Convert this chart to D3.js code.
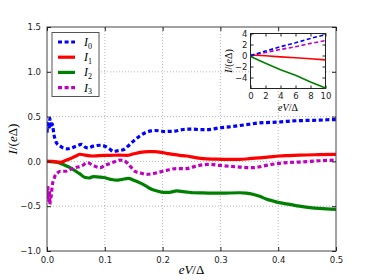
<!DOCTYPE html>
<html>
<head>
<meta charset="utf-8">
<script src="https://cdn.jsdelivr.net/npm/d3@7"></script>
<style>
  html, body { margin: 0; padding: 0; background: #fff; }
  text { font-family: "DejaVu Sans", sans-serif; }
  .math { font-family: "Liberation Serif", "DejaVu Serif", serif; font-style: italic; }
</style>
</head>
<body>
<div id="chart"></div>
<script>
// main panel: current components vs eV/Delta
const v0 = [0.000, 0.002, 0.004, 0.005, 0.007, 0.009, 0.012, 0.017, 0.023, 0.028, 0.035, 0.043, 0.050, 0.060, 0.066, 0.071, 0.080, 0.092, 0.100, 0.108, 0.115, 0.123, 0.132, 0.140, 0.152, 0.160, 0.170, 0.180, 0.187, 0.196, 0.204, 0.212, 0.221, 0.230, 0.241, 0.252, 0.264, 0.280, 0.298, 0.315, 0.333, 0.350, 0.368, 0.385, 0.402, 0.420, 0.437, 0.455, 0.471, 0.485, 0.500];
const i0 = [0.32, 0.44, 0.36, 0.48, 0.38, 0.42, 0.30, 0.20, 0.17, 0.15, 0.14, 0.15, 0.17, 0.19, 0.16, 0.15, 0.17, 0.18, 0.17, 0.14, 0.11, 0.12, 0.13, 0.17, 0.24, 0.28, 0.32, 0.34, 0.345, 0.34, 0.333, 0.335, 0.337, 0.35, 0.36, 0.36, 0.355, 0.355, 0.374, 0.385, 0.40, 0.415, 0.43, 0.435, 0.44, 0.45, 0.455, 0.458, 0.46, 0.465, 0.467];

const v1 = [0.000, 0.010, 0.023, 0.032, 0.040, 0.050, 0.057, 0.066, 0.078, 0.090, 0.109, 0.125, 0.138, 0.150, 0.161, 0.175, 0.187, 0.198, 0.207, 0.218, 0.230, 0.241, 0.255, 0.270, 0.290, 0.310, 0.333, 0.350, 0.368, 0.385, 0.402, 0.420, 0.437, 0.470, 0.500];
const i1 = [0.0, 0.0, -0.01, 0.01, 0.03, 0.06, 0.08, 0.07, 0.06, 0.065, 0.067, 0.07, 0.067, 0.085, 0.10, 0.11, 0.11, 0.10, 0.09, 0.078, 0.067, 0.06, 0.045, 0.03, 0.025, 0.022, 0.022, 0.03, 0.04, 0.05, 0.06, 0.065, 0.07, 0.075, 0.078];

const v2 = [0.000, 0.010, 0.020, 0.030, 0.040, 0.050, 0.057, 0.066, 0.073, 0.080, 0.090, 0.098, 0.110, 0.120, 0.130, 0.141, 0.150, 0.161, 0.170, 0.181, 0.191, 0.201, 0.212, 0.224, 0.240, 0.253, 0.270, 0.300, 0.333, 0.345, 0.356, 0.368, 0.379, 0.390, 0.402, 0.420, 0.437, 0.455, 0.471, 0.500];
const i2 = [0.0, -0.005, -0.015, -0.04, -0.07, -0.11, -0.14, -0.18, -0.185, -0.17, -0.175, -0.18, -0.20, -0.21, -0.20, -0.19, -0.21, -0.24, -0.27, -0.31, -0.33, -0.345, -0.345, -0.33, -0.34, -0.35, -0.352, -0.355, -0.35, -0.355, -0.367, -0.39, -0.42, -0.44, -0.46, -0.48, -0.50, -0.515, -0.525, -0.535];

const v3 = [0.000, 0.001, 0.002, 0.003, 0.004, 0.005, 0.006, 0.007, 0.009, 0.012, 0.014, 0.018, 0.023, 0.032, 0.040, 0.049, 0.060, 0.070, 0.080, 0.092, 0.100, 0.109, 0.118, 0.126, 0.133, 0.141, 0.152, 0.162, 0.172, 0.184, 0.194, 0.207, 0.224, 0.241, 0.259, 0.282, 0.299, 0.316, 0.333, 0.356, 0.368, 0.379, 0.402, 0.420, 0.437, 0.471, 0.500];
const i3 = [-0.30, -0.42, -0.29, -0.44, -0.33, -0.48, -0.36, -0.40, -0.27, -0.20, -0.16, -0.13, -0.11, -0.11, -0.09, -0.07, -0.05, -0.015, -0.045, -0.07, -0.045, -0.022, 0.0, 0.015, 0.01, -0.033, -0.11, -0.13, -0.145, -0.135, -0.12, -0.10, -0.08, -0.08, -0.05, -0.033, -0.045, -0.055, -0.063, -0.07, -0.06, -0.045, -0.022, -0.012, -0.007, 0.007, 0.015];

// inset panel: wide bias range
const insetV = [0, 2, 4, 6, 8, 10];
const insetI0 = [0.0, 0.8, 1.6, 2.3, 3.1, 3.8];
const insetI1 = [0.1, -0.05, -0.25, -0.4, -0.6, -0.8];
const insetI2 = [-0.2, -1.4, -2.6, -3.6, -4.8, -5.9];
const insetI3 = [0.0, 0.55, 1.1, 1.6, 2.2, 2.7];

const xTicks = [0.0, 0.1, 0.2, 0.3, 0.4, 0.5];
const yTicks = [-1.0, -0.5, 0.0, 0.5, 1.0, 1.5];
const insetXTicks = [0, 2, 4, 6, 8, 10];
const insetYTicks = [-4, -2, 0, 2, 4];

const seriesNames = ["0", "1", "2", "3"];
const colors = ["#0000ff", "#ff0000", "#008000", "#bf00bf"];
const dashed = [true, false, false, true];

const width = 374, height = 280;
const margin = { top: 27, right: 38, bottom: 29, left: 47 };

const svg = d3.select("#chart").append("svg")
  .attr("width", width)
  .attr("height", height);

const x = d3.scaleLinear().domain([0, 0.5]).range([margin.left, width - margin.right]);
const y = d3.scaleLinear().domain([-1, 1.5]).range([height - margin.bottom, margin.top]);

// grid
svg.append("g")
  .selectAll("line.gx")
  .data(xTicks.slice(1, -1))
  .join("line")
  .attr("x1", d => x(d)).attr("x2", d => x(d))
  .attr("y1", y(-1)).attr("y2", y(1.5))
  .attr("stroke", "#888").attr("stroke-width", 0.6).attr("stroke-dasharray", "1,2");
svg.append("g")
  .selectAll("line.gy")
  .data(yTicks.slice(1, -1))
  .join("line")
  .attr("x1", x(0)).attr("x2", x(0.5))
  .attr("y1", d => y(d)).attr("y2", d => y(d))
  .attr("stroke", "#888").attr("stroke-width", 0.6).attr("stroke-dasharray", "1,2");

// curves
const mainData = [[v0, i0], [v1, i1], [v2, i2], [v3, i3]];
const line = d3.line().x(d => x(d[0])).y(d => y(d[1])).curve(d3.curveMonotoneX);

const clip = svg.append("clipPath").attr("id", "clipMain").append("rect")
  .attr("x", x(0)).attr("y", y(1.5)).attr("width", x(0.5) - x(0)).attr("height", y(-1) - y(1.5));

// draw solid first, dashed on top as in reference order
[2, 1, 3, 0].forEach(k => {
  const pts = mainData[k][0].map((v, j) => [v, mainData[k][1][j]]);
  svg.append("path")
    .datum(pts)
    .attr("clip-path", "url(#clipMain)")
    .attr("fill", "none")
    .attr("stroke", colors[k])
    .attr("stroke-width", 3.2)
    .attr("stroke-dasharray", dashed[k] ? "4,2.6" : null)
    .attr("d", line);
});

// frame and axes
svg.append("rect")
  .attr("x", x(0)).attr("y", y(1.5))
  .attr("width", x(0.5) - x(0)).attr("height", y(-1) - y(1.5))
  .attr("fill", "none").attr("stroke", "#444").attr("stroke-width", 1);

const fmt1 = d3.format(".1f");
const minus = s => s.replace("-", "\u2212");

svg.append("g")
  .attr("transform", `translate(0,${y(-1)})`)
  .call(d3.axisBottom(x).tickValues(xTicks).tickFormat(d => fmt1(d)).tickSizeInner(-4).tickSizeOuter(0).tickPadding(6))
  .call(g => g.select(".domain").remove())
  .call(g => g.selectAll("text").attr("font-size", 8.5).attr("fill", "#222").attr("font-family", "DejaVu Sans"));
svg.append("g")
  .attr("transform", `translate(0,${y(1.5)})`)
  .call(d3.axisTop(x).tickValues(xTicks).tickFormat("").tickSizeInner(-4).tickSizeOuter(0))
  .call(g => g.select(".domain").remove());
svg.append("g")
  .attr("transform", `translate(${x(0)},0)`)
  .call(d3.axisLeft(y).tickValues(yTicks).tickFormat(d => minus(fmt1(d))).tickSizeInner(-4).tickSizeOuter(0).tickPadding(6))
  .call(g => g.select(".domain").remove())
  .call(g => g.selectAll("text").attr("font-size", 8.5).attr("fill", "#222").attr("font-family", "DejaVu Sans"));
svg.append("g")
  .attr("transform", `translate(${x(0.5)},0)`)
  .call(d3.axisRight(y).tickValues(yTicks).tickFormat("").tickSizeInner(-4).tickSizeOuter(0))
  .call(g => g.select(".domain").remove());

// axis labels
const xl = svg.append("text").attr("class", "math")
  .attr("x", (x(0) + x(0.5)) / 2).attr("y", 274)
  .attr("text-anchor", "middle").attr("font-size", 13);
xl.append("tspan").text("eV");
xl.append("tspan").attr("font-style", "normal").text("/\u0394");

const yl = svg.append("text").attr("class", "math")
  .attr("transform", `translate(17,${(y(-1) + y(1.5)) / 2}) rotate(-90)`)
  .attr("text-anchor", "middle").attr("font-size", 13);
yl.append("tspan").text("I");
yl.append("tspan").attr("font-style", "normal").text("/(");
yl.append("tspan").text("e");
yl.append("tspan").attr("font-style", "normal").text("\u0394)");

// legend
const lg = svg.append("g").attr("transform", "translate(52,32.5)");
lg.append("rect").attr("width", 47).attr("height", 64)
  .attr("fill", "#fff").attr("stroke", "#555").attr("stroke-width", 1);
seriesNames.forEach((n, k) => {
  const yy = 9.5 + k * 15.2;
  lg.append("line")
    .attr("x1", 6).attr("x2", 23).attr("y1", yy).attr("y2", yy)
    .attr("stroke", colors[k]).attr("stroke-width", 3.2)
    .attr("stroke-dasharray", dashed[k] ? "4,2.6" : null);
  const t = lg.append("text").attr("class", "math")
    .attr("x", 32).attr("y", yy + 4).attr("font-size", 12);
  t.append("tspan").text("I");
  t.append("tspan").attr("font-style", "normal").attr("font-size", 8).attr("dy", 2.5).text(n);
});

// inset
const ix = d3.scaleLinear().domain([0, 10]).range([250.5, 325.5]);
const iy = d3.scaleLinear().domain([-6, 4]).range([88.5, 33.5]);
const inset = svg.append("g");
inset.append("rect")
  .attr("x", ix(0)).attr("y", iy(4)).attr("width", ix(10) - ix(0)).attr("height", iy(-6) - iy(4))
  .attr("fill", "#fff").attr("stroke", "#222").attr("stroke-width", 1);

const insetSeries = [insetI0, insetI1, insetI2, insetI3];
const iline = d3.line().x(d => ix(d[0])).y(d => iy(d[1]));
[2, 1, 3, 0].forEach(k => {
  inset.append("path")
    .datum(insetV.map((v, j) => [v, insetSeries[k][j]]))
    .attr("fill", "none")
    .attr("stroke", colors[k])
    .attr("stroke-width", 1.6)
    .attr("stroke-dasharray", dashed[k] ? "4,2.5" : null)
    .attr("d", iline);
});

inset.append("g")
  .attr("transform", `translate(0,${iy(-6)})`)
  .call(d3.axisBottom(ix).tickValues(insetXTicks).tickSizeInner(-3).tickSizeOuter(0).tickPadding(4))
  .call(g => g.select(".domain").remove())
  .call(g => g.selectAll("text").attr("font-size", 8.5).attr("fill", "#222").attr("font-family", "DejaVu Sans"));
inset.append("g")
  .attr("transform", `translate(0,${iy(4)})`)
  .call(d3.axisTop(ix).tickValues(insetXTicks).tickFormat("").tickSizeInner(-3).tickSizeOuter(0))
  .call(g => g.select(".domain").remove());
inset.append("g")
  .attr("transform", `translate(${ix(0)},0)`)
  .call(d3.axisLeft(iy).tickValues(insetYTicks).tickFormat(d => minus(String(d))).tickSizeInner(-3).tickSizeOuter(0).tickPadding(3))
  .call(g => g.select(".domain").remove())
  .call(g => g.selectAll("text").attr("font-size", 8.5).attr("fill", "#222").attr("font-family", "DejaVu Sans"));
inset.append("g")
  .attr("transform", `translate(${ix(10)},0)`)
  .call(d3.axisRight(iy).tickValues(insetYTicks).tickFormat("").tickSizeInner(-3).tickSizeOuter(0))
  .call(g => g.select(".domain").remove());

const ixl = inset.append("text").attr("class", "math")
  .attr("x", (ix(0) + ix(10)) / 2).attr("y", 111)
  .attr("text-anchor", "middle").attr("font-size", 10);
ixl.append("tspan").text("eV");
ixl.append("tspan").attr("font-style", "normal").text("/\u0394");

const iyl = inset.append("text").attr("class", "math")
  .attr("transform", `translate(232,${(iy(-6) + iy(4)) / 2}) rotate(-90)`)
  .attr("text-anchor", "middle").attr("font-size", 10);
iyl.append("tspan").text("I");
iyl.append("tspan").attr("font-style", "normal").text("/(");
iyl.append("tspan").text("e");
iyl.append("tspan").attr("font-style", "normal").text("\u0394)");

svg.selectAll(".tick line").attr("stroke", "#222");
</script>
</body>
</html>
